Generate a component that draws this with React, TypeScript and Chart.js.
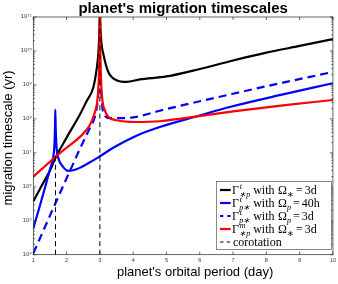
import React, { useEffect, useRef } from 'react';
import { Chart, registerables } from 'chart.js';

Chart.register(...registerables);

// ---- data ----
const blackX = [1, 1.25, 1.5, 1.65, 2.0, 2.4, 2.6, 2.8, 2.9, 2.96, 2.99, 3.0, 3.01, 3.04, 3.1, 3.25, 3.5, 3.8, 4.2, 5, 6, 7, 8, 9, 10];
const blackY = [3.7e5, 1.07e6, 3.0e6, 6.6e6, 2.8e7, 1.35e8, 3.3e8, 8.3e8, 2.8e9, 1.07e10, 6.3e10, 3.2e11, 7.9e10, 2.0e10, 8.5e9, 2.45e9, 1.38e9, 1.23e9, 1.45e9, 1.78e9, 2.95e9, 5.25e9, 8.9e9, 1.41e10, 2.24e10];

const blueX = [1, 1.2, 1.4, 1.5, 1.6, 1.63, 1.65, 1.66, 1.675, 1.7, 1.75, 1.9, 2.05, 2.3, 2.7, 3.0, 3.4, 4.1, 4.8, 6, 6.9, 8.5, 10];
const blueY = [6.0e4, 2.8e5, 1.41e6, 3.2e6, 7.6e6, 1.41e7, 4.5e7, 1.86e8, 4.5e7, 1.41e7, 7.1e6, 3.8e6, 2.95e6, 3.3e6, 5.25e6, 7.9e6, 1.41e7, 3.2e7, 5.75e7, 1.26e8, 2.24e8, 5.25e8, 1.12e9];

const blueDashX = [1, 1.5, 2.0, 2.2, 2.4, 2.55, 2.7, 2.85, 2.92, 2.97, 3.0, 3.03, 3.1, 3.3, 3.7, 4.1, 4.8, 6, 7, 8.5, 10];
const blueDashY = [1.1e4, 1.41e5, 1.78e6, 4.8e6, 1.32e7, 2.7e7, 5.4e7, 1.15e8, 2.6e8, 8.0e8, 2.0e9, 8.0e8, 1.5e8, 1.05e8, 1.05e8, 1.15e8, 1.74e8, 3.3e8, 5.5e8, 1.17e9, 2.4e9];

const redX = [1, 1.25, 1.5, 1.65, 2.0, 2.4, 2.7, 2.85, 2.93, 2.97, 2.99, 3.0, 3.01, 3.03, 3.07, 3.15, 3.25, 3.5, 4.1, 4.8, 5.6, 7, 8.5, 10];
const redY = [2.0e6, 3.3e6, 5.4e6, 7.4e6, 1.41e7, 2.95e7, 6.6e7, 1.58e8, 4.0e8, 2.0e9, 1.6e10, 3.2e11, 2.0e10, 2.0e9, 4.0e8, 1.78e8, 1.15e8, 9.1e7, 8.1e7, 8.5e7, 1.07e8, 1.66e8, 2.5e8, 3.6e8];

const corotationX = [1.6667, 3];
const corotationBottom = [1e4, 1e4];
const corotationTop = [1e7, 1e11];

const xTickValues = [1, 2, 3, 4, 5, 6, 7, 8, 9, 10];
const yExponents = [4, 5, 6, 7, 8, 9, 10, 11];

const titleText = "planet's migration timescales";
const xTitle = "planet's orbital period (day)";
const yTitle = 'migration timescale (yr)';

const legendSup = ['t', 't', 't', 'm'];
const legendSub = ['\u2217p', 'p\u2217', 'p\u2217', '\u2217p'];
const legendOmegaSub = ['\u2217', 'p', 'p', '\u2217'];
const legendValue = ['3d', '40h', '3d', '3d'];
const legendLast = 'corotation';

const SUP: Record<string, string> = { '0': '\u2070', '1': '\u00b9', '2': '\u00b2', '3': '\u00b3', '4': '\u2074', '5': '\u2075', '6': '\u2076', '7': '\u2077', '8': '\u2078', '9': '\u2079' };
const toSup = (n: number) => String(n).split('').map((c) => SUP[c] || c).join('');

const pts = (xs: number[], ys: number[]) => xs.map((x, i) => ({ x, y: ys[i] }));

const BLACK = '#000000';
const BLUE = '#0000ff';
const RED = '#ff0000';

const decorPlugin = {
  id: 'decor',
  afterDraw(chart: any) {
    const { ctx, chartArea: a, scales } = chart;
    const xs = scales.x;
    const ys = scales.y;
    ctx.save();
    const line = (x1: number, y1: number, x2: number, y2: number) => {
      ctx.beginPath();
      ctx.moveTo(x1, y1);
      ctx.lineTo(x2, y2);
      ctx.stroke();
    };
    // box
    ctx.strokeStyle = '#262626';
    ctx.lineWidth = 0.7;
    ctx.setLineDash([]);
    ctx.strokeRect(a.left, a.top, a.right - a.left, a.bottom - a.top);
    // x ticks
    for (const t of xTickValues) {
      const px = xs.getPixelForValue(t);
      line(px, a.bottom, px, a.bottom - 3);
      line(px, a.top, px, a.top + 3);
    }
    // y ticks (major + minor)
    for (const e of yExponents) {
      const py = ys.getPixelForValue(Math.pow(10, e));
      line(a.left, py, a.left + 3, py);
      line(a.right, py, a.right - 3, py);
      if (e < yExponents[yExponents.length - 1]) {
        for (let m = 2; m <= 9; m++) {
          const pm = ys.getPixelForValue(m * Math.pow(10, e));
          line(a.left, pm, a.left + 1.6, pm);
          line(a.right, pm, a.right - 1.6, pm);
        }
      }
    }

    // axis titles
    ctx.fillStyle = '#000';
    ctx.font = '13px "Liberation Sans", Arial, sans-serif';
    ctx.textAlign = 'center';
    ctx.textBaseline = 'middle';
    ctx.fillText(xTitle, (a.left + a.right) / 2 + 12, 272);
    ctx.save();
    ctx.translate(8.5, (a.top + a.bottom) / 2 + 2);
    ctx.rotate(-Math.PI / 2);
    ctx.fillText(yTitle, 0, 0);
    ctx.restore();

    // legend
    const bx = 216.5, by = 181.5, bw = 115, bh = 68;
    ctx.fillStyle = '#fff';
    ctx.fillRect(bx, by, bw, bh);
    ctx.strokeStyle = '#555';
    ctx.lineWidth = 0.7;
    ctx.strokeRect(bx, by, bw, bh);
    const colors = [BLACK, BLUE, BLUE, RED];
    const dashes = [[], [], [3.3, 4], []];
    const rowY = (i: number) => by + 8.5 + i * 13;
    const mainFont = '12px "Liberation Serif", "Times New Roman", serif';
    const smallFont = '8px "Liberation Serif", "Times New Roman", serif';
    const smallItalic = 'italic 8px "Liberation Serif", "Times New Roman", serif';
    ctx.textAlign = 'left';
    ctx.textBaseline = 'alphabetic';
    for (let i = 0; i < 4; i++) {
      const y = rowY(i);
      ctx.strokeStyle = colors[i];
      ctx.lineWidth = 2.2;
      ctx.setLineDash(dashes[i]);
      line(220, y, 230.7, y);
      ctx.setLineDash([]);
      ctx.fillStyle = '#000';
      const base = y + 4;
      let x = 232;
      ctx.font = mainFont;
      ctx.fillText('\u0393', x, base);
      x += ctx.measureText('\u0393').width + 0.2;
      ctx.font = smallItalic;
      ctx.fillText(legendSup[i], x + 0.6, base - 5.5);
      const supW = ctx.measureText(legendSup[i]).width + 0.6;
      ctx.fillText(legendSub[i], x, base + 2.5);
      const subW = ctx.measureText(legendSub[i]).width;
      x += Math.max(supW, subW) + 3;
      ctx.font = mainFont;
      ctx.fillText('with', x, base);
      x += ctx.measureText('with').width + 3.5;
      ctx.fillText('\u03a9', x, base);
      x += ctx.measureText('\u03a9').width + 0.2;
      ctx.font = i === 1 || i === 2 ? smallItalic : smallFont;
      ctx.fillText(legendOmegaSub[i], x, base + 2.5);
      x += ctx.measureText(legendOmegaSub[i]).width + 2;
      ctx.font = mainFont;
      ctx.fillText('=', x, base);
      x += ctx.measureText('=').width + 2;
      ctx.fillText(legendValue[i], x, base);
    }
    {
      const y = rowY(4);
      ctx.strokeStyle = BLACK;
      ctx.lineWidth = 1;
      ctx.setLineDash([3.5, 3.2]);
      line(220, y, 230.7, y);
      ctx.setLineDash([]);
      ctx.fillStyle = '#000';
      ctx.font = mainFont;
      ctx.fillText(legendLast, 233, y + 3.8);
    }
    ctx.restore();
  },
};

export default function App() {
  const ref = useRef<HTMLCanvasElement | null>(null);
  useEffect(() => {
    document.body.style.margin = '0';
    const canvas = ref.current;
    if (!canvas) return;
    const common = { pointRadius: 0, fill: false, cubicInterpolationMode: 'monotone' as const, borderWidth: 2.2 };
    const chart = new Chart(canvas, {
      type: 'line',
      data: {
        datasets: [
          { label: 'black', data: pts(blackX, blackY), borderColor: BLACK, order: 5, ...common },
          { label: 'blue', data: pts(blueX, blueY), borderColor: BLUE, order: 4, ...common },
          { label: 'blueDash', data: pts(blueDashX, blueDashY), borderColor: BLUE, borderDash: [8, 5], order: 3, ...common },
          { label: 'red', data: pts(redX, redY), borderColor: RED, order: 2, ...common },
          ...corotationX.map((cx, i) => ({
            label: 'corotation' + i,
            data: [{ x: cx, y: corotationBottom[i] }, { x: cx, y: corotationTop[i] }],
            borderColor: BLACK,
            borderWidth: 1,
            borderDash: [5, 3.5],
            pointRadius: 0,
            fill: false,
            order: 1,
          })),
        ],
      },
      options: {
        responsive: false,
        animation: false,
        events: [],
        layout: { padding: { left: 0, right: 4.7, top: 0, bottom: 0 } },
        plugins: {
          legend: { display: false },
          tooltip: { enabled: false },
          title: {
            display: true,
            text: titleText,
            fullSize: false,
            color: '#000',
            font: { family: '"Liberation Sans", Arial, sans-serif', weight: 'bold', size: 15 },
            padding: { top: 0, bottom: -1 },
          },
        },
        scales: {
          x: {
            type: 'linear',
            min: 1,
            max: 10,
            grid: { display: false, drawTicks: false },
            border: { display: false },
            afterFit: (s: any) => { s.height = 29.3; },
            afterBuildTicks: (s: any) => { s.ticks = xTickValues.map((v) => ({ value: v })); },
            ticks: {
              autoSkip: false,
              maxRotation: 0,
              padding: 2,
              color: '#333',
              font: { family: '"Liberation Sans", Arial, sans-serif', size: 5.5 },
              callback: (v: any) => String(v),
            },
          },
          y: {
            type: 'logarithmic',
            min: 1e4,
            max: 1e11,
            grid: { display: false, drawTicks: false },
            border: { display: false },
            afterFit: (s: any) => { s.width = 33.3; },
            afterBuildTicks: (s: any) => { s.ticks = yExponents.map((e) => ({ value: Math.pow(10, e) })); },
            ticks: {
              autoSkip: false,
              padding: 1.5,
              color: '#333',
              font: { family: '"DejaVu Sans", sans-serif', size: 5.5 },
              callback: (v: any) => '10' + toSup(Math.round(Math.log10(Number(v)))),
            },
          },
        },
      },
      plugins: [decorPlugin],
    } as any);
    return () => chart.destroy();
  }, []);
  return (
    <div style={{ position: 'fixed', left: 0, top: 0, width: 338, height: 284 }}>
      <canvas ref={ref} width={338} height={284} style={{ display: 'block', width: 338, height: 284 }} />
    </div>
  );
}
